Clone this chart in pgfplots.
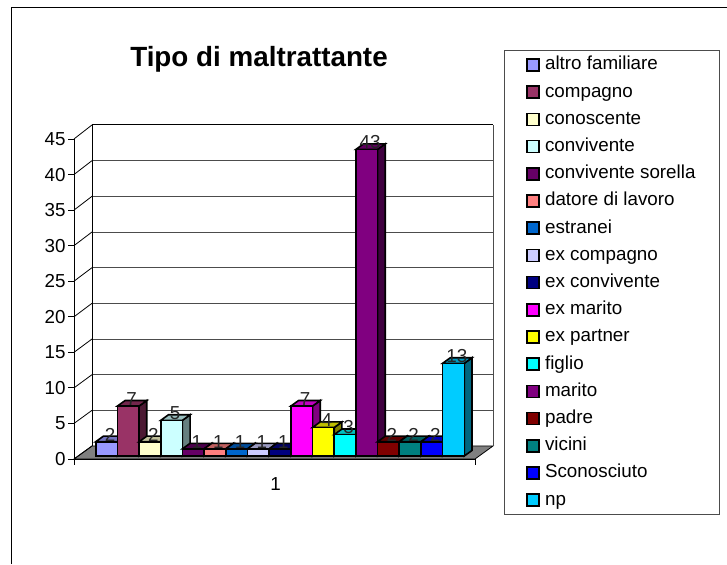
\documentclass[border=0pt]{standalone}
\usepackage{pgfplots}
\pgfplotsset{compat=1.18}
\usepackage{fontspec}
\setmainfont{Liberation Sans}
\newcommand\dx{0.355}
\newcommand\dy{0.78}
% #1 position, #2 value, #3 colour
\newcommand\tdbar[3]{%
  \pgfmathsetmacro\xa{#1}\pgfmathsetmacro\xb{#1+1}%
  \pgfmathsetmacro\xc{#1+1+\dx}\pgfmathsetmacro\xd{#1+\dx}%
  \pgfmathsetmacro\yt{#2+\dy}%
  \edef\tmp{\noexpand\addplot[forget plot,draw=black,line width=1.6pt,fill=#3!50!black] coordinates {(\xb,0) (\xc,\dy) (\xc,\yt) (\xb,#2)} -- cycle;
  \noexpand\addplot[forget plot,draw=black,line width=1.6pt,fill=#3!75!black] coordinates {(\xa,#2) (\xd,\yt) (\xc,\yt) (\xb,#2)} -- cycle;
  \noexpand\addplot[forget plot,draw=black,line width=1.6pt,fill=#3] coordinates {(\xa,0) (\xa,#2) (\xb,#2) (\xb,0)} -- cycle;}\tmp
  \addlegendimage{legend image code/.code={\draw[black,line width=1.6pt,fill=#3] (0pt,-6pt) rectangle (12pt,6pt);}}%
}
\newcommand\lab[2]{\node[text=black!85,font=\fontsize{18.8}{20}\selectfont] at (axis cs:#1+0.66,#2+1.0) {#2};}
\definecolor{c1}{HTML}{9999FF}\definecolor{c2}{HTML}{993366}\definecolor{c3}{HTML}{FFFFCC}
\definecolor{c4}{HTML}{CCFFFF}\definecolor{c5}{HTML}{660066}\definecolor{c6}{HTML}{FF8080}
\definecolor{c7}{HTML}{0066CC}\definecolor{c8}{HTML}{CCCCFF}\definecolor{c9}{HTML}{000080}
\definecolor{c10}{HTML}{FF00FF}\definecolor{c11}{HTML}{FFFF00}\definecolor{c12}{HTML}{00FFFF}
\definecolor{c13}{HTML}{800080}\definecolor{c14}{HTML}{800000}\definecolor{c15}{HTML}{008080}
\definecolor{c16}{HTML}{0000FF}\definecolor{c17}{HTML}{00CCFF}
\begin{document}
\begin{tikzpicture}[x=1pt,y=1pt]
\useasboundingbox (0,0) rectangle (727,564);
\fill[white] (0,0) rectangle (727,564);
\draw[black,line width=1pt] (11.5,0) -- (11.5,556.5) -- (727,556.5);
% walls and floor
\fill[gray!100,draw=black,line width=0.8pt] (74,105) -- (92,118) -- (493,118) -- (475,105) -- cycle;
\foreach \k in {1,...,8}{\draw[black!70,line width=0.9pt] (92,118+\k*35.67) -- (493,118+\k*35.67);}
\draw[black!70,line width=0.9pt] (493,118) -- (493,439);
\draw[black,line width=1pt] (92,439) -- (493,439);
\draw[black,line width=1pt] (92,118) -- (92,439);
\foreach \k in {0,...,9}{\draw[black,line width=0.8pt] (74,105+\k*35.56) -- (92,118+\k*35.67);}
\node[font=\fontsize{27.8}{30}\selectfont\bfseries] at (259,505) {Tipo di maltrattante};
\begin{axis}[at={(74pt,105pt)},anchor=south west,scale only axis,width=401pt,height=320pt,
  xmin=0,xmax=2,ymin=0,ymax=45,
  axis x line=bottom,axis y line=left,axis line style={-,black,line width=0.9pt},
  xtick={0,2},xticklabels={},extra x ticks={1},extra x tick labels={1},
  extra x tick style={major tick length=0pt,tick label style={yshift=-15pt,xshift=1pt}},
  ytick={0,5,...,45},
  tick align=outside,major tick length=6pt,tick style={black,line width=0.9pt},
  /pgf/number format/assume math mode=true,
  tick label style={font=\fontsize{18.8}{20}\selectfont,text=black},
  yticklabel style={xshift=1pt}]
\end{axis}
\begin{axis}[at={(95.7pt,108pt)},anchor=south west,scale only axis,width=368.6pt,height=320.85pt,
  xmin=0,xmax=17,ymin=0,ymax=45,clip=false,hide axis,
  legend cell align=left,
  legend style={at={(1.1077,1.2654)},anchor=north west,draw=black!70,line width=0.9pt,
    font=\fontsize{18.8}{20}\selectfont,row sep=6.2pt,inner xsep=22pt,inner ysep=4pt,
    nodes={text height=13.5pt,text depth=3.5pt},
    /tikz/every odd column/.append style={column sep=3pt}}]
\tdbar{0}{2}{c1}\addlegendentry{altro familiare}
\tdbar{1}{7}{c2}\addlegendentry{compagno}
\tdbar{2}{2}{c3}\addlegendentry{conoscente}
\tdbar{3}{5}{c4}\addlegendentry{convivente}
\tdbar{4}{1}{c5}\addlegendentry{convivente sorella}
\tdbar{5}{1}{c6}\addlegendentry{datore di lavoro}
\tdbar{6}{1}{c7}\addlegendentry{estranei}
\tdbar{7}{1}{c8}\addlegendentry{ex compagno}
\tdbar{8}{1}{c9}\addlegendentry{ex convivente}
\tdbar{9}{7}{c10}\addlegendentry{ex marito}
\tdbar{10}{4}{c11}\addlegendentry{ex partner}
\tdbar{11}{3}{c12}\addlegendentry{figlio}
\tdbar{12}{43}{c13}\addlegendentry{marito}
\tdbar{13}{2}{c14}\addlegendentry{padre}
\tdbar{14}{2}{c15}\addlegendentry{vicini}
\tdbar{15}{2}{c16}\addlegendentry{Sconosciuto}
\tdbar{16}{13}{c17}\addlegendentry{np}
\lab{0}{2}\lab{1}{7}\lab{2}{2}\lab{3}{5}\lab{4}{1}\lab{5}{1}\lab{6}{1}\lab{7}{1}\lab{8}{1}
\lab{9}{7}\lab{10}{4}\lab{11}{3}\lab{12}{43}\lab{13}{2}\lab{14}{2}\lab{15}{2}\lab{16}{13}
\end{axis}
\end{tikzpicture}
\end{document}
